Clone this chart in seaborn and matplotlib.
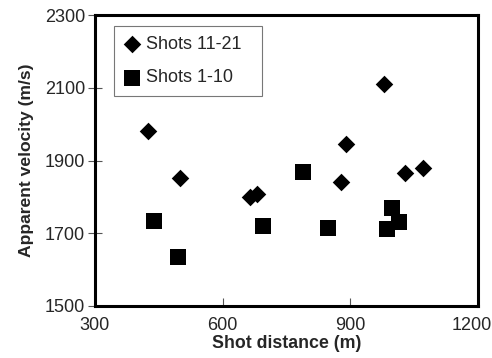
import matplotlib
matplotlib.use("Agg")
import matplotlib.pyplot as plt
import matplotlib.transforms as mtransforms
import seaborn as sns
import pandas as pd

# Data
shots_11_21_dist = [425, 500, 665, 680, 877, 891, 980, 1028, 1070]
shots_11_21_vel = [1980, 1852, 1801, 1808, 1840, 1946, 2110, 1866, 1879]
shots_1_10_dist = [439, 494, 694, 788, 847, 987, 999, 1015]
shots_1_10_vel = [1735, 1635, 1720, 1868, 1715, 1713, 1770, 1732]

x_ticks = [300, 600, 900, 1200]
y_ticks = [1500, 1700, 1900, 2100, 2300]

df_a = pd.DataFrame({"dist": shots_11_21_dist, "vel": shots_11_21_vel, "group": "Shots 11-21"})
df_b = pd.DataFrame({"dist": shots_1_10_dist, "vel": shots_1_10_vel, "group": "Shots 1-10"})

sns.set_style("white")
plt.rcParams["font.family"] = ["Liberation Sans", "DejaVu Sans"]

fig = plt.figure(figsize=(4.92, 3.58), dpi=100)
ax = fig.add_axes([0.193, 0.1453, 0.7785, 0.8127])

sns.scatterplot(data=df_a, x="dist", y="vel", marker="D", s=80, color="black",
                edgecolor="black", linewidth=0, label="Shots 11-21", ax=ax)
sns.scatterplot(data=df_b, x="dist", y="vel", marker="s", s=120, color="black",
                edgecolor="black", linewidth=0, label="Shots 1-10", ax=ax)

ax.set_xlim(300, 1200)
ax.set_ylim(1500, 2300)
ax.set_xticks(x_ticks)
ax.set_yticks(y_ticks)
ax.tick_params(axis="x", direction="in", length=6, width=0.8, color="#555555",
               labelsize=13, pad=8, bottom=True)
ax.tick_params(axis="y", direction="inout", length=10, width=0.8, color="#555555",
               labelsize=13, pad=2, left=True)
for sp in ax.spines.values():
    sp.set_visible(True)
    sp.set_color("black")
    sp.set_linewidth(2.2)

# nudge the last x tick label left so it stays inside the figure
last = ax.get_xticklabels()[-1]
last.set_transform(last.get_transform() +
                   mtransforms.ScaledTranslation(-6 / 100, 0, fig.dpi_scale_trans))

ax.set_xlabel("Shot distance (m)", fontsize=12.8, fontweight="bold", labelpad=1)
ax.set_ylabel("Apparent velocity (m/s)", fontsize=12.6, fontweight="bold", labelpad=8)

leg = ax.legend(loc="upper left", bbox_to_anchor=(0.0496, 0.0, 0.386, 0.962),
                mode="expand", fontsize=13,
                frameon=True, fancybox=False, borderaxespad=0, handletextpad=0.3,
                borderpad=0.55, labelspacing=0.9, handlelength=0.9)
leg.get_frame().set_edgecolor("#555555")
leg.get_frame().set_linewidth(0.8)

fig.savefig("out.png", dpi=100)
